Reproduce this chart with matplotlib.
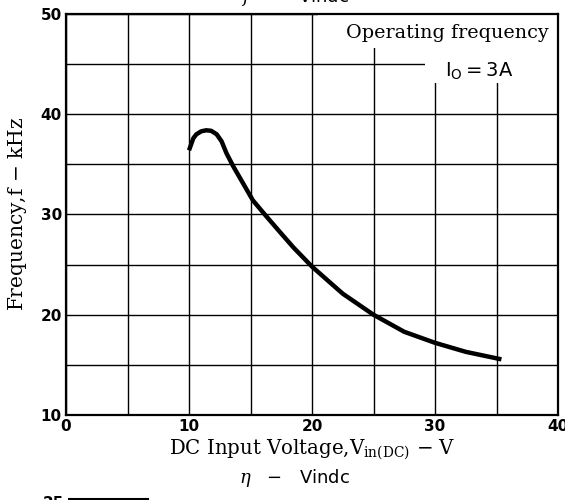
import matplotlib
matplotlib.use("Agg")
import matplotlib.pyplot as plt
from matplotlib.patches import Rectangle
from matplotlib.lines import Line2D

# ---- data ----
voltage = [10.0, 10.35, 10.6, 11.0, 11.4, 11.8, 12.25, 12.65, 13.05, 13.6, 14.4,
           15.2, 16.3, 17.5, 18.5, 20.0, 22.5, 25.0, 27.5, 30.0, 32.5, 35.4]
frequency = [36.4, 37.6, 38.0, 38.3, 38.4, 38.35, 38.0, 37.3, 36.1, 34.8, 33.1,
             31.4, 29.8, 28.1, 26.7, 24.8, 22.1, 20.0, 18.3, 17.2, 16.3, 15.55]
x_ticks = [0, 10, 20, 30, 40]
y_ticks = [10, 20, 30, 40, 50]
x_grid = [5, 15, 25, 35]
y_grid = [15, 25, 35, 45]

plt.rcParams['mathtext.fontset'] = 'dejavuserif'

fig = plt.figure(figsize=(5.65, 5.0), dpi=100)
ax = fig.add_axes([66/565, 85/500, 492/565, 401/500])

ax.set_xlim(0, 40)
ax.set_ylim(10, 50)
ax.set_xticks(x_ticks)
ax.set_yticks(y_ticks)
ax.set_xticks(x_grid, minor=True)
ax.set_yticks(y_grid, minor=True)
ax.set_axisbelow(True)
ax.grid(True, which='both', color='black', linewidth=1.0)
ax.tick_params(which='both', length=0)
ax.tick_params(axis='x', pad=3)
ax.tick_params(axis='y', pad=3)
for lab in ax.get_xticklabels() + ax.get_yticklabels():
    lab.set_fontfamily('DejaVu Sans')
    lab.set_fontweight('bold')
    lab.set_fontsize(11)
for sp in ax.spines.values():
    sp.set_linewidth(1.6)

ax.plot(voltage, frequency, color='black', linewidth=3.2,
        solid_capstyle='butt', solid_joinstyle='round', zorder=3)

# white areas behind annotation text
ax.add_patch(Rectangle((0.512, 0.915), 0.488, 0.085, transform=ax.transAxes,
                       facecolor='white', edgecolor='none', zorder=1))
ax.add_patch(Rectangle((0.73, 0.828), 0.27, 0.087, transform=ax.transAxes,
                       facecolor='white', edgecolor='none', zorder=1))
ax.text(0.98, 0.953, 'Operating frequency', transform=ax.transAxes,
        ha='right', va='center', fontsize=13.8, family='DejaVu Serif', zorder=4)
ax.text(0.84, 0.858, r'$\mathregular{I_O = 3A}$', transform=ax.transAxes,
        ha='center', va='center', fontsize=14, zorder=4)

ax.set_xlabel(r'DC Input Voltage,V$_{\mathregular{in(DC)}}$ $-$ V',
              family='DejaVu Serif', fontsize=14.2, labelpad=3)
ax.set_ylabel(r'Frequency,f $-$ kHz', family='DejaVu Serif', fontsize=14.5,
              labelpad=8)

# neighbouring chart titles (cut off in the source page)
fig.text(0.522, 0.997, r'$f$   $-$   Vindc', ha='center', va='baseline',
         fontsize=13, family='DejaVu Sans')
fig.text(0.522, 0.034, r'$\eta$   $-$   Vindc', ha='center', va='baseline',
         fontsize=13, family='DejaVu Sans')
fig.text(0.076, 0.008, '25', ha='left', va='top', fontsize=11,
         fontweight='bold', family='DejaVu Sans')
fig.add_artist(Line2D([0.122, 0.262], [0.003, 0.003], color='black',
                      linewidth=1.5, transform=fig.transFigure))

fig.savefig('out.png', dpi=100)
